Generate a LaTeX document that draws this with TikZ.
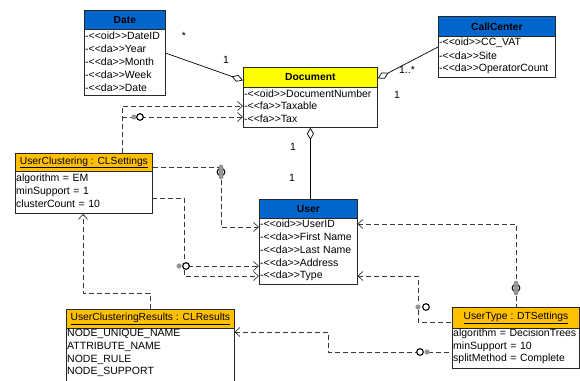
\documentclass[tikz,border=0pt]{standalone}
\usepackage{fontspec}
\setmainfont{Liberation Sans}
\usetikzlibrary{arrows.meta,calc}
\definecolor{hblue}{RGB}{0,102,204}
\definecolor{hyel}{RGB}{255,255,0}
\definecolor{horange}{RGB}{255,192,0}
\definecolor{linec}{RGB}{40,40,40}
\definecolor{depc}{RGB}{55,55,55}
\definecolor{blobc}{RGB}{150,150,150}
\newcommand\rowfont{\fontsize{10.5}{12}\selectfont}
\newcommand\hdrfont{\fontsize{10.3}{12}\selectfont}
\newcommand\lsg{<\kern0pt<}
\newcommand\rsg{>\kern0pt>}
\begin{document}
\begin{tikzpicture}[x=1pt,y=-1pt,
  hdr/.style={draw=linec, line width=0.8pt, anchor=north west, inner sep=0pt, font=\hdrfont},
  bodybox/.style={draw=linec, line width=0.8pt, fill=white, anchor=north west, inner sep=0pt},
  attrrow/.style={anchor=west, inner xsep=1pt, inner ysep=0pt, align=left, font=\rowfont, text width=#1},
  dep/.style={draw=depc, line width=0.7pt, dash pattern=on 5pt off 3pt},
  depto/.style={dep, -{Straight Barb[length=5pt,width=9pt]}},
  depfrom/.style={dep, {Straight Barb[length=5pt,width=9pt]}-},
  agg/.style={draw=black, line width=0.7pt, {Diamond[open,length=12pt,width=7pt,fill=white]}-},
  mult/.style={font=\rowfont, inner sep=0pt},
  sock/.style={circle, inner sep=0pt, minimum size=8pt},
  capn/.style={rectangle, inner sep=0pt, minimum width=10pt, minimum height=15pt},
  ring/.style={draw=black, line width=1.1pt, fill=white},
  blob/.style={fill=blobc}
]
\useasboundingbox (0,0) rectangle (580,380);
\clip (0,0) rectangle (580,380);

% ---------- Date ----------
\node[bodybox, minimum width=81pt, minimum height=66pt] (dateb) at (84,29) {};
\node[hdr, fill=hblue, minimum width=81pt, minimum height=19pt, font=\hdrfont\bfseries] (dateh) at (84,10) {Date};
\node[attrrow=79pt] (d1) at (84,36) {-\lsg oid\rsg DateID};
\node[attrrow=79pt] (d2) at (84,49) {-\lsg da\rsg Year};
\node[attrrow=79pt] (d3) at (84,62) {-\lsg da\rsg Month};
\node[attrrow=79pt] (d4) at (84,75) {-\lsg da\rsg Week};
\node[attrrow=79pt] (d5) at (84,88) {-\lsg da\rsg Date};

% ---------- Document ----------
\node[bodybox, minimum width=134pt, minimum height=40pt] (docb) at (243,87) {};
\node[hdr, fill=hyel, minimum width=134pt, minimum height=20pt, font=\hdrfont\bfseries] (doch) at (243,67) {Document};
\node[attrrow=132pt] (doc1) at (243,93.5) {-\lsg oid\rsg DocumentNumber};
\node[attrrow=132pt] (doc2) at (243,106) {-\lsg fa\rsg Taxable};
\node[attrrow=132pt] (doc3) at (243,118.5) {-\lsg fa\rsg Tax};

% ---------- CallCenter ----------
\node[bodybox, minimum width=117pt, minimum height=41pt] (ccb) at (438,36) {};
\node[hdr, fill=hblue, minimum width=117pt, minimum height=20pt, font=\hdrfont\bfseries] (cch) at (438,16) {CallCenter};
\node[attrrow=115pt] (cc1) at (438,43) {-\lsg oid\rsg CC\_VAT};
\node[attrrow=115pt] (cc2) at (438,56) {-\lsg da\rsg Site};
\node[attrrow=115pt] (cc3) at (438,69) {-\lsg da\rsg OperatorCount};

% ---------- User ----------
\node[bodybox, minimum width=98pt, minimum height=66pt] (ub) at (259,218) {};
\node[hdr, fill=hblue, minimum width=98pt, minimum height=19pt, font=\hdrfont\bfseries] (uh) at (259,199) {User};
\node[attrrow=96pt] (u1) at (259,224) {-\lsg oid\rsg UserID};
\node[attrrow=96pt] (u2) at (259,237) {-\lsg da\rsg First Name};
\node[attrrow=96pt] (u3) at (259,250) {-\lsg da\rsg Last Name};
\node[attrrow=96pt] (u4) at (259,263) {-\lsg da\rsg Address};
\node[attrrow=96pt] (u5) at (259,276) {-\lsg da\rsg Type};

% ---------- UserClustering ----------
\node[bodybox, minimum width=137pt, minimum height=42pt] (uclb) at (15,171) {};
\node[hdr, fill=horange, minimum width=137pt, minimum height=18pt] (uclh) at (15,153) {\underline{UserClustering : CLSettings}};
\node[attrrow=135pt] (ucl1) at (15,179) {algorithm = EM};
\node[attrrow=135pt] (ucl2) at (15,191.5) {minSupport = 1};
\node[attrrow=135pt] (ucl3) at (15,204) {clusterCount = 10};

% ---------- UserClusteringResults ----------
\node[bodybox, minimum width=168pt, minimum height=80pt] (uclrb) at (66,328) {};
\node[hdr, fill=horange, minimum width=168pt, minimum height=19pt] (uclrh) at (66,309) {\underline{UserClusteringResults : CLResults}};
\node[attrrow=166pt] (r1) at (66,334) {NODE\_UNIQUE\_NAME};
\node[attrrow=166pt] (r2) at (66,347) {ATTRIBUTE\_NAME};
\node[attrrow=166pt] (r3) at (66,360) {NODE\_RULE};
\node[attrrow=166pt] (r4) at (66,372) {NODE\_SUPPORT};

% ---------- UserType ----------
\node[bodybox, minimum width=127pt, minimum height=40pt] (utb) at (452,328) {};
\node[hdr, fill=horange, minimum width=127pt, minimum height=21pt] (uth) at (452,307) {\underline{UserType : DTSettings}};
\node[attrrow=125pt] (t1) at (452,334) {algorithm = DecisionTrees};
\node[attrrow=125pt] (t2) at (452,346.5) {minSupport = 10};
\node[attrrow=125pt] (t3) at (452,359) {splitMethod = Complete};

% ---------- associations ----------
\draw[agg] ([yshift=-3pt]doch.west) -- ([yshift=-4pt]d2.east);
\draw[agg] ([yshift=-1pt]doch.east) -- ([yshift=-4pt]cc1.west);
\draw[agg] (docb.south) -- (docb.south |- uh.north);
\node[mult] (m1) at (184,36) {*};
\node[mult] (m2) at (226,60) {1};
\node[mult] (m3) at (407,70) {1..*};
\node[mult] (m4) at (397,95) {1};
\node[mult] (m5) at (293,147) {1};
\node[mult] (m6) at (292,178) {1};

% ---------- symbol anchors ----------
\node[sock] (s1) at (137,117) {};
\node[sock] (s2) at (184,266) {};
\node[sock] (s3) at (418,306) {};
\node[sock] (s4) at (424,352) {};
\node[capn] (cap1) at (221,172) {};
\node[capn] (cap2) at (516,288) {};

% ---------- dependencies ----------
\draw[depto] ($(uclh.north west)+(107,0)$) |- (doc2.west);
\draw[dep] ($(uclh.north west)+(107,-36)$) -- (s1.west);
\draw[depto] (s1.east) -- (s1.east -| doc3.west);

\draw[dep] ($(uclh.east)+(0,5)$) -| (cap1.north);
\draw[depto] (cap1.south) |- ([yshift=-3pt]u1.west);

\draw[dep] ($(ucl2.east)+(0,6.5)$) -| (s2.north);
\draw[depto] (s2.east) -- (s2.east -| u4.west);
\draw[depto] (s2.south) |- (u5.west);

\draw[depto] ($(uclrh.north west)+(84,0)$) -- ++(0,-16) -| ($(uclb.south west)+(68,0)$);

\draw[depfrom] (u1.east) -| (cap2.north);
\draw[dep] (cap2.south) -- (cap2.south |- uth.north);

\draw[depfrom] (u5.east) -| (s3.north);
\draw[dep] (s3.south) |- ([yshift=-4.5pt]uth.west);

\draw[depfrom] ([yshift=2pt]r1.east) -- ++(94,0) |- (s4.west);
\draw[dep] (s4.east) -- (s4.east -| uth.west);

% ---------- interface symbols ----------
\fill[blob] ($(s1.center)+(-3,0)$) circle (2.6pt);
\draw[ring] ($(s1.center)+(3,0)$) circle (3.3pt);
\fill[blob] ($(s2.center)+(-5,0)$) circle (2.6pt);
\draw[ring] ($(s2.center)+(2,0)$) circle (3.3pt);
\fill[blob] ($(s3.center)+(0,1)$) circle (2.6pt);
\draw[ring] ($(s3.center)+(8,1)$) circle (3.3pt);
\draw[ring] ($(s4.center)+(-4,0)$) circle (3.3pt);
\fill[blob] ($(s4.center)+(3,0)$) circle (2.6pt);

\draw[ring] (cap1.center) circle (3.8pt);
\draw[fill=blobc, draw=gray, rounded corners=1.5pt] ($(cap1.center)+(-2,-7)$) rectangle ($(cap1.center)+(2,7)$);
\draw[ring] (cap2.center) circle (3.8pt);
\draw[fill=blobc, draw=gray, rounded corners=1.5pt] ($(cap2.center)+(-2,-7)$) rectangle ($(cap2.center)+(2,7)$);
\end{tikzpicture}
\end{document}
